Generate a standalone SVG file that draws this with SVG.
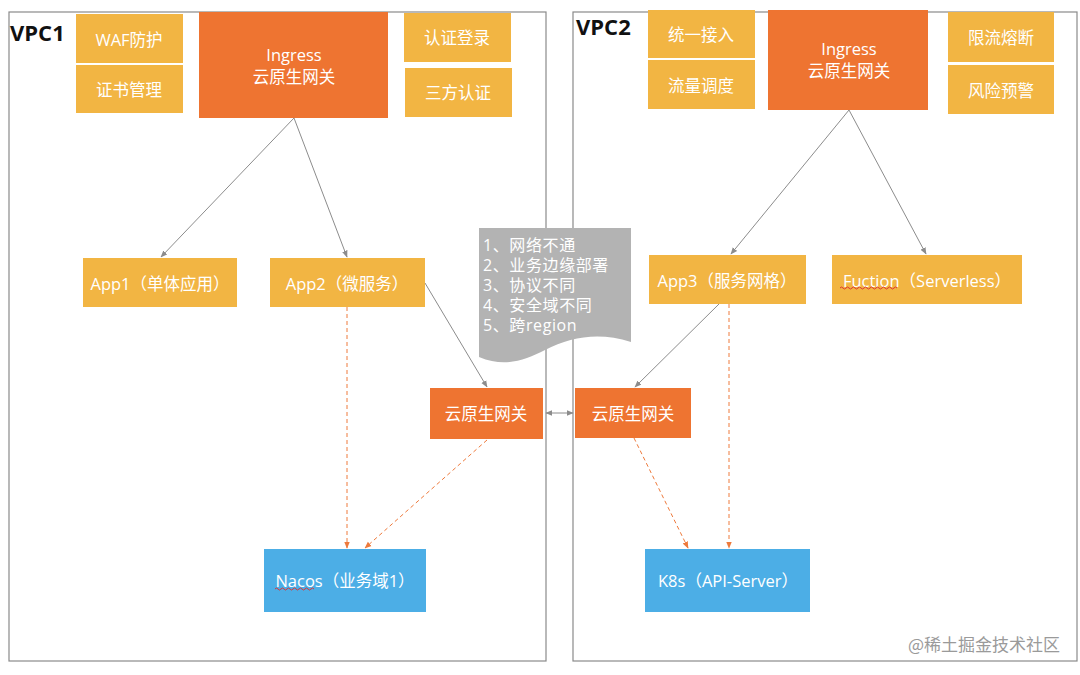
<svg xmlns="http://www.w3.org/2000/svg" width="1080" height="675" viewBox="0 0 1080 675">
<defs>
<style>
.frame{fill:#fff;stroke:#8a8a8a;stroke-width:1.2}
.y{fill:#F2B543}
.o{fill:#EE7431}
.b{fill:#4CAEE6}
.t{font-family:"Open Sans","Noto Sans CJK SC",sans-serif;font-size:16.5px;fill:#fff;text-anchor:middle;dominant-baseline:central}
.vpc{font-family:"Open Sans","Noto Sans CJK SC",sans-serif;font-size:22px;font-weight:bold;fill:#111}
.nt{font-family:"Open Sans","Noto Sans CJK SC",sans-serif;font-size:16px;letter-spacing:0.6px;fill:#fff}
.g{stroke:#8c8c8c;stroke-width:1;fill:none}
.d{stroke:#EE7A3C;stroke-width:1;fill:none;stroke-dasharray:4 3}
.sq{stroke:#d33;stroke-width:1;fill:none}
</style>
<marker id="ag" viewBox="0 0 10 10" refX="9" refY="5" markerWidth="7" markerHeight="7" orient="auto-start-reverse"><path d="M0,1 L10,5 L0,9 Z" fill="#8c8c8c"/></marker>
<marker id="ao" viewBox="0 0 10 10" refX="9" refY="5" markerWidth="7" markerHeight="7" orient="auto"><path d="M0,1 L10,5 L0,9 Z" fill="#EE7A3C"/></marker>
</defs>
<rect width="1080" height="675" fill="#fff"/>
<g id="vpc1"><rect class="frame" x="9" y="12" width="537" height="649"/><text class="vpc" x="10" y="41">VPC1</text></g>
<g id="vpc2"><rect class="frame" x="573" y="12" width="504" height="649"/><text class="vpc" x="576" y="35">VPC2</text></g>

<g id="connectors">
<line class="g" x1="294" y1="118" x2="161" y2="257" marker-end="url(#ag)"/>
<line class="g" x1="294" y1="118" x2="347" y2="257" marker-end="url(#ag)"/>
<line class="g" x1="849" y1="110" x2="731" y2="254" marker-end="url(#ag)"/>
<line class="g" x1="849" y1="110" x2="926" y2="254" marker-end="url(#ag)"/>
<line class="g" x1="425" y1="283" x2="487" y2="387" marker-end="url(#ag)"/>
<line class="g" x1="719" y1="304" x2="635" y2="387" marker-end="url(#ag)"/>
<line class="g" x1="546" y1="413" x2="573" y2="413" marker-start="url(#ag)" marker-end="url(#ag)"/>
<line class="d" x1="347" y1="307" x2="347" y2="548" marker-end="url(#ao)"/>
<line class="d" x1="487" y1="440" x2="365" y2="548" marker-end="url(#ao)"/>
<line class="d" x1="634" y1="438" x2="688" y2="548" marker-end="url(#ao)"/>
<line class="d" x1="729" y1="304" x2="729" y2="548" marker-end="url(#ao)"/>
</g>

<g id="waf"><rect class="y" x="76" y="14" width="107" height="49"/><text class="t" x="129" y="39">WAF防护</text></g>
<g id="cert"><rect class="y" x="76" y="65" width="107" height="48"/><text class="t" x="129" y="89">证书管理</text></g>
<g id="ingress1"><rect class="o" x="199" y="12" width="189" height="106"/><text class="t" x="294" y="54">Ingress</text><text class="t" x="294" y="76">云原生网关</text></g>
<g id="auth"><rect class="y" x="404" y="13" width="107" height="49"/><text class="t" x="457" y="37">认证登录</text></g>
<g id="auth3"><rect class="y" x="405" y="68" width="107" height="49"/><text class="t" x="458" y="92">三方认证</text></g>

<g id="access"><rect class="y" x="648" y="10" width="107" height="48"/><text class="t" x="701" y="34">统一接入</text></g>
<g id="traffic"><rect class="y" x="648" y="60" width="107" height="49"/><text class="t" x="701" y="85">流量调度</text></g>
<g id="ingress2"><rect class="o" x="768" y="10" width="160" height="100"/><text class="t" x="849" y="48">Ingress</text><text class="t" x="849" y="70">云原生网关</text></g>
<g id="limit"><rect class="y" x="948" y="12" width="106" height="50"/><text class="t" x="1001" y="37">限流熔断</text></g>
<g id="risk"><rect class="y" x="948" y="65" width="106" height="49"/><text class="t" x="1001" y="90">风险预警</text></g>

<g id="app1"><rect class="y" x="83" y="258" width="154" height="49"/><text class="t" x="160" y="283">App1（单体应用）</text></g>
<g id="app2"><rect class="y" x="270" y="258" width="155" height="49"/><text class="t" x="347" y="283">App2（微服务）</text></g>
<g id="app3"><rect class="y" x="649" y="255" width="157" height="49"/><text class="t" x="727" y="280">App3（服务网格）</text></g>
<g id="fuction"><rect class="y" x="832" y="255" width="190" height="49"/><text class="t" x="927" y="280">Fuction（Serverless）</text><path class="sq" d="M840,288 q1.5,-2 3,0 t3,0 t3,0 t3,0 t3,0 t3,0 t3,0 t3,0 t3,0 t3,0 t3,0 t3,0 t3,0 t3,0 t3,0 t3,0 t3,0 t3,0 t3,0"/></g>

<g id="note"><path d="M479,228 H631 V342 C600,332 572,336 545,350 C525,360 505,368 479,357 Z" fill="#B3B3B3"/>
<text class="nt" x="483" y="251">1、网络不通</text>
<text class="nt" x="483" y="271">2、业务边缘部署</text>
<text class="nt" x="483" y="291">3、协议不同</text>
<text class="nt" x="483" y="311">4、安全域不同</text>
<text class="nt" x="483" y="331">5、跨region</text></g>

<g id="gw1"><rect class="o" x="430" y="388" width="113" height="51"/><text class="t" x="486" y="413">云原生网关</text></g>
<g id="gw2"><rect class="o" x="575" y="388" width="116" height="50"/><text class="t" x="633" y="413">云原生网关</text></g>

<g id="nacos"><rect class="b" x="264" y="549" width="162" height="63"/><text class="t" x="345" y="580">Nacos（业务域1）</text><path class="sq" d="M275,589 q1.5,-2 3,0 t3,0 t3,0 t3,0 t3,0 t3,0 t3,0 t3,0 t3,0 t3,0 t3,0 t3,0 t3,0"/></g>
<g id="k8s"><rect class="b" x="645" y="549" width="165" height="63"/><text class="t" x="728" y="580">K8s（API-Server）</text></g>

<text x="1060" y="651" font-family="'Noto Sans CJK SC',sans-serif" font-size="17" fill="#9a9a9a" text-anchor="end">@稀土掘金技术社区</text>
</svg>
